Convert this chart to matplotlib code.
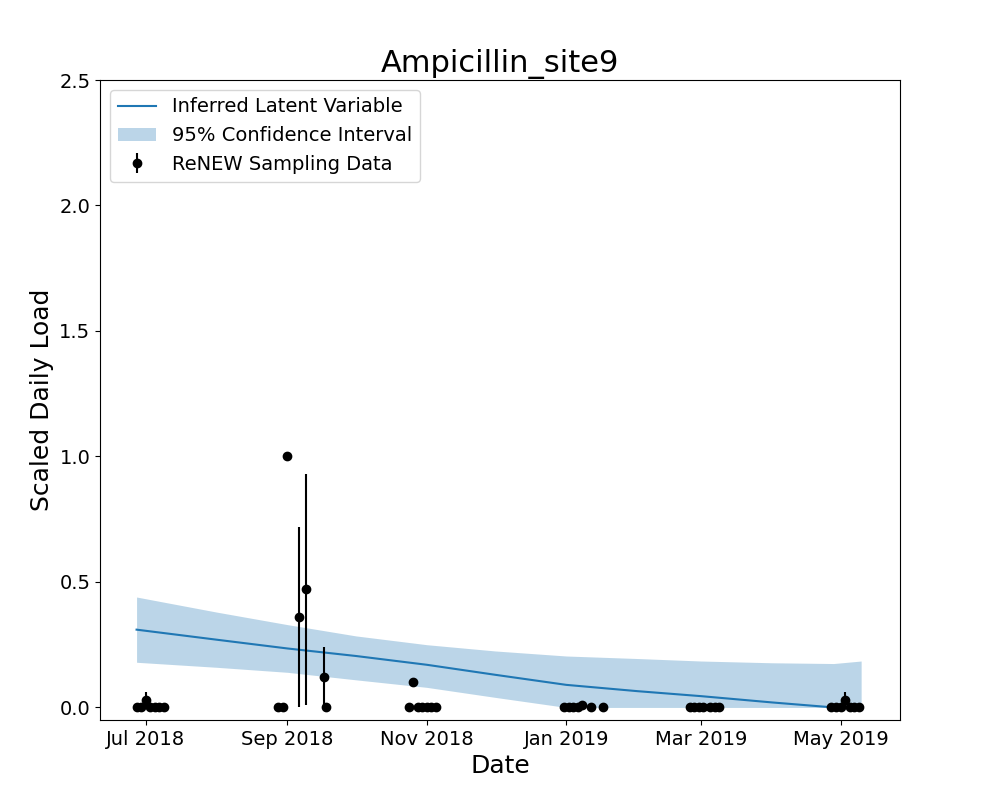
import matplotlib
matplotlib.use("Agg")
import matplotlib.pyplot as plt
import matplotlib.dates as mdates
import numpy as np
import pandas as pd

# latent variable and confidence band
curve_dates = pd.to_datetime(["2018-06-27", "2018-08-01", "2018-09-01", "2018-10-01", "2018-11-01",
                              "2018-12-01", "2019-01-01", "2019-02-01", "2019-03-01", "2019-04-01",
                              "2019-04-28", "2019-05-10"])
latent = [0.31, 0.27, 0.235, 0.205, 0.17, 0.13, 0.09, 0.065, 0.045, 0.02, 0.0, 0.0]
upper = [0.44, 0.38, 0.33, 0.285, 0.25, 0.225, 0.205, 0.195, 0.185, 0.178, 0.175, 0.185]
lower = [0.18, 0.16, 0.14, 0.11, 0.08, 0.04, 0.0, 0.0, 0.0, 0.0, 0.0, 0.0]

# sampling data
sample_dates = pd.to_datetime([
    "2018-06-27", "2018-06-29", "2018-07-01", "2018-07-03", "2018-07-05", "2018-07-07", "2018-07-09",
    "2018-08-28", "2018-08-30", "2018-09-01", "2018-09-06", "2018-09-09", "2018-09-17", "2018-09-18",
    "2018-10-24", "2018-10-26", "2018-10-28", "2018-10-30", "2018-11-01", "2018-11-03", "2018-11-05",
    "2018-12-31", "2019-01-02", "2019-01-04", "2019-01-06", "2019-01-08", "2019-01-12", "2019-01-17",
    "2019-02-24", "2019-02-26", "2019-02-28", "2019-03-02", "2019-03-05", "2019-03-07", "2019-03-09",
    "2019-04-27", "2019-04-29", "2019-05-01", "2019-05-03", "2019-05-05", "2019-05-07", "2019-05-09"])
sample_vals = [0, 0, 0.03, 0, 0, 0, 0,
               0, 0, 1.0, 0.36, 0.47, 0.12, 0,
               0, 0.1, 0, 0, 0, 0, 0,
               0, 0, 0, 0, 0.01, 0, 0,
               0, 0, 0, 0, 0, 0, 0,
               0, 0, 0, 0.03, 0, 0, 0]
sample_err = [0, 0, 0.03, 0, 0, 0, 0,
              0, 0, 0, 0.36, 0.46, 0.12, 0,
              0, 0, 0, 0, 0, 0, 0,
              0, 0, 0, 0, 0, 0, 0,
              0, 0, 0, 0, 0, 0, 0,
              0, 0, 0, 0.03, 0, 0, 0]

plt.rcParams["font.size"] = 14
fig, ax = plt.subplots(figsize=(10, 8), dpi=100)
fig.subplots_adjust(left=0.1, right=0.9, bottom=0.1, top=0.9)

ax.plot(curve_dates, latent, color="#1f77b4", label="Inferred Latent Variable")
ax.fill_between(curve_dates, lower, upper, color="#1f77b4", alpha=0.3, linewidth=0,
                label="95% Confidence Interval")
ax.errorbar(sample_dates, sample_vals, yerr=sample_err, fmt="o", color="black",
            label="ReNEW Sampling Data")

ax.set_xlim(pd.Timestamp("2018-06-11"), pd.Timestamp("2019-05-27"))
ax.set_ylim(-0.05, 2.5)
ax.set_yticks([0, 0.5, 1.0, 1.5, 2.0, 2.5])
ax.xaxis.set_major_locator(mdates.MonthLocator(bymonth=[1, 3, 5, 7, 9, 11]))
ax.xaxis.set_major_formatter(mdates.DateFormatter("%b %Y"))
ax.set_title("Ampicillin_site9", fontsize=22)
ax.set_xlabel("Date", fontsize=18)
ax.set_ylabel("Scaled Daily Load", fontsize=18)
ax.legend(loc="upper left")

fig.savefig("out.png", dpi=100)
